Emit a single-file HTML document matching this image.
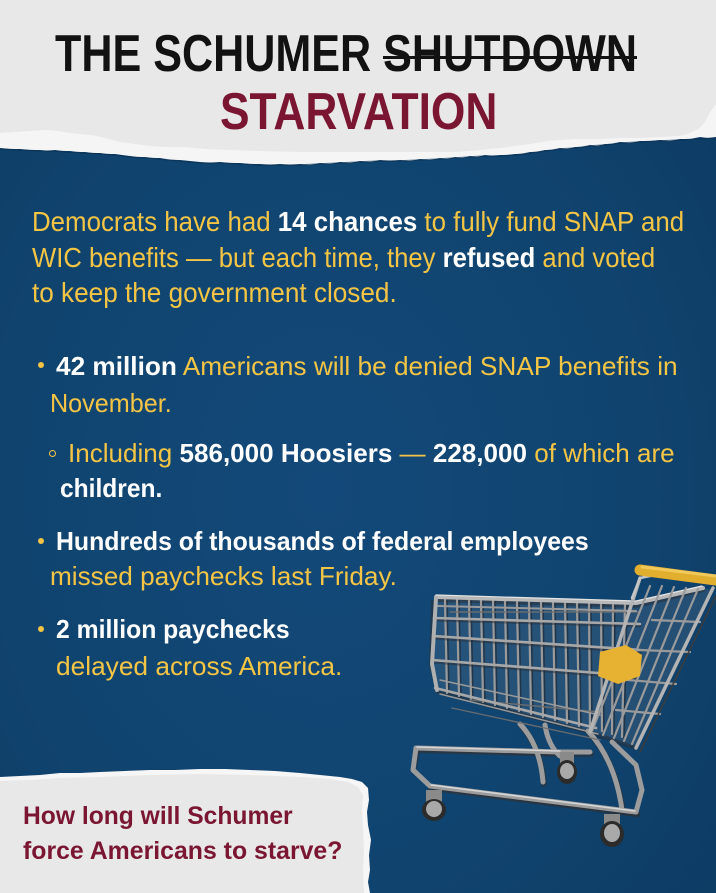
<!DOCTYPE html>
<html>
<head>
<meta charset="utf-8">
<style>
  html,body{margin:0;padding:0;}
  body{width:716px;height:893px;overflow:hidden;position:relative;
    background:#10446f;font-family:"Liberation Sans Narrow","Liberation Sans",sans-serif;}
  .bg{position:absolute;left:0;top:0;width:716px;height:893px;
    background:radial-gradient(ellipse at 45% 55%, #13497a 0%, #10446f 55%, #0c3a62 100%);}
  svg.layer{position:absolute;left:0;top:0;}
  .ln{position:absolute;white-space:nowrap;}
  .fit{display:inline-block;white-space:nowrap;transform-origin:0 0;}
  .t{font-size:52px;line-height:52px;font-weight:700;color:#121212;}
  .st{color:#7a1632;}
  .p{font-size:28px;line-height:28px;color:#f4c544;}
  .b{font-size:26px;line-height:26px;color:#f4c544;}
  .w{color:#ffffff;font-weight:700;}
  .q{font-size:25px;line-height:25px;color:#7a1632;font-weight:700;}
  .dot{position:absolute;width:6px;height:6px;border-radius:50%;background:#f4c544;}
  .ring{position:absolute;width:5px;height:5px;border-radius:50%;border:1.5px solid #f4c544;}
</style>
</head>
<body>
<div class="bg"></div>

<svg class="layer" width="716" height="893" viewBox="0 0 716 893">
  <!-- top torn paper: white strip -->
  <polygon fill="#f5f5f5" points="0,0 716,0 716,137 708,138 700,137 690,139 680,139 670,141 660,140 650,141 640,141 630,143 620,142 612,144 605,144 597,146 590,145 582,147 575,147 567,149 560,148 552,150 545,150 537,152 530,152 522,154 515,154 507,155 500,155 492,156 485,155 477,157 470,156 462,158 455,157 447,159 440,158 430,160 420,159 410,161 400,160 390,161 380,160 370,162 360,161 350,163 340,162 330,164 320,163 310,165 300,164 290,165 280,164 270,165 260,164 250,164 240,163 230,163 220,162 210,163 200,162 190,161 180,160 170,160 160,158 152,158 145,157 137,157 130,156 122,155 115,154 107,154 100,153 92,153 85,152 77,152 70,151 62,151 55,150 47,151 40,150 30,150 20,149 10,149 0,148"/>
  <!-- top paper gray -->
  <polygon fill="#e8e8e8" points="0,0 716,0 716,104 710,112 706,120 700,128 690,133 680,136 660,137 640,138 620,138 600,139 575,139 560,140 548,141 530,144 515,146 500,148 480,150 457,152 420,152 380,152 340,152 300,152 260,151 230,150 205,149 183,147 165,147 150,146 135,144 120,142 105,138 91,135 80,134 70,133 58,131 46,130 30,131 15,132 0,133"/>
  <!-- dark shadow line at tear -->
  <polyline fill="none" stroke="#0a2f50" stroke-width="1.5" opacity="0.6" points="0,149 20,150 40,151 55,151 70,152 85,153 100,154 115,155 130,157 145,158 160,159 180,161 200,163 220,163 240,164 260,165 280,165 300,165 320,164 340,163 360,162 380,161 400,161 420,160 440,159 455,158 470,157 485,156 500,156 515,155 530,153 545,151 560,149 575,148 590,146 605,145 620,143 640,142 660,141 680,140 700,139 716,138"/>

  <!-- ============ CART ============ -->
  <g stroke-linecap="round" stroke-linejoin="round" fill="none">
    <!-- faint basket mass -->
    <polygon points="436,598 636,604 703,588 713,590 636,748 592,733 437,690 432,664" fill="#8a9099" opacity="0.18" stroke="none"/>
    <!-- shadow strokes -->
    <g stroke="#2a2f36" stroke-width="4" opacity="0.55">
      <polyline points="437,600 636,606 703,590"/>
      <polyline points="433,602 431,665 438,692 592,733 636,748"/>
      <polyline points="416,750 562,754"/>
      <polyline points="418,752 414,772 432,788 638,815"/>
    </g>
    <!-- lower base frame -->
    <g stroke="#2f3338" stroke-width="6" opacity="0.6">
      <polyline points="417,750 561,754 591,754"/>
      <polyline points="431,788 637,814"/>
      <path d="M521,726 Q541,747 544,784"/>
      <path d="M589,733 Q616,762 623,812"/>
    </g>
    <g stroke="#9c9c9c" stroke-width="5">
      <polyline points="416,748 560,752 590,752"/>
      <polyline points="416,748 413,770 430,786 636,812"/>
      <polyline points="636,812 642,790 636,765 612,742"/>
      <path d="M520,724 Q540,745 543,782"/>
      <path d="M588,731 Q615,760 622,810"/>
      <path d="M545,725 Q548,745 560,756"/>
    </g>
    <g stroke="#d6d6d6" stroke-width="1.5">
      <polyline points="417,747 560,751"/>
      <polyline points="431,785 635,811"/>
    </g>
    <!-- wheels -->
    <g>
      <rect x="426" y="790" width="16" height="14" fill="#8a8a8a" stroke="none"/>
      <ellipse cx="434" cy="810" rx="12" ry="11" fill="#2b2b2b" stroke="none"/>
      <ellipse cx="434" cy="809" rx="8" ry="8" fill="#a9a9a9" stroke="none"/>
      <rect x="560" y="752" width="14" height="12" fill="#8a8a8a" stroke="none"/>
      <ellipse cx="567" cy="772" rx="10" ry="12" fill="#2b2b2b" stroke="none"/>
      <ellipse cx="567" cy="771" rx="7" ry="8" fill="#a9a9a9" stroke="none"/>
      <rect x="604" y="814" width="16" height="14" fill="#8a8a8a" stroke="none"/>
      <ellipse cx="612" cy="834" rx="12" ry="13" fill="#2b2b2b" stroke="none"/>
      <ellipse cx="612" cy="833" rx="8" ry="9" fill="#a9a9a9" stroke="none"/>
    </g>
    <!-- wire shadows -->
    <g stroke="#1f2a36" stroke-width="1.6" opacity="0.7">
      <line x1="447" y1="601" x2="449" y2="694"/>
      <line x1="459" y1="601" x2="461" y2="697"/>
      <line x1="471" y1="601" x2="473" y2="700"/>
      <line x1="483" y1="602" x2="485" y2="703"/>
      <line x1="495" y1="602" x2="497" y2="706"/>
      <line x1="507" y1="602" x2="509" y2="709"/>
      <line x1="519" y1="603" x2="521" y2="712"/>
      <line x1="531" y1="603" x2="533" y2="715"/>
      <line x1="543" y1="603" x2="545" y2="718"/>
      <line x1="555" y1="604" x2="557" y2="721"/>
      <line x1="567" y1="604" x2="569" y2="724"/>
      <line x1="579" y1="604" x2="581" y2="727"/>
      <line x1="591" y1="605" x2="592" y2="730"/>
      <line x1="603" y1="605" x2="604" y2="732"/>
      <line x1="615" y1="606" x2="614" y2="735"/>
      <line x1="627" y1="606" x2="624" y2="738"/>
    </g>
    <!-- basket vertical wires (side face) -->
    <g stroke="#9a9a9a" stroke-width="2.2">
      <line x1="445" y1="600" x2="447" y2="693"/>
      <line x1="457" y1="600" x2="459" y2="696"/>
      <line x1="469" y1="600" x2="471" y2="699"/>
      <line x1="481" y1="601" x2="483" y2="702"/>
      <line x1="493" y1="601" x2="495" y2="705"/>
      <line x1="505" y1="601" x2="507" y2="708"/>
      <line x1="517" y1="602" x2="519" y2="711"/>
      <line x1="529" y1="602" x2="531" y2="714"/>
      <line x1="541" y1="602" x2="543" y2="717"/>
      <line x1="553" y1="603" x2="555" y2="720"/>
      <line x1="565" y1="603" x2="567" y2="723"/>
      <line x1="577" y1="603" x2="579" y2="726"/>
      <line x1="589" y1="604" x2="590" y2="729"/>
      <line x1="601" y1="604" x2="602" y2="731"/>
      <line x1="613" y1="605" x2="612" y2="734"/>
      <line x1="625" y1="605" x2="622" y2="737"/>
    </g>
    <!-- inner far wires -->
    <g stroke="#6f6f6f" stroke-width="1.4" opacity="0.9">
      <line x1="450" y1="612" x2="640" y2="612"/>
      <line x1="452" y1="708" x2="600" y2="740"/>
      <line x1="470" y1="700" x2="600" y2="712"/>
    </g>
    <!-- horizontal wires on side face -->
    <g stroke="#2a2f36" stroke-width="3" opacity="0.5">
      <polyline points="434,620 640,626"/>
      <polyline points="433,638 640,652"/>
      <polyline points="432,662 636,678"/>
    </g>
    <g stroke="#a8a8a8" stroke-width="2.6">
      <polyline points="434,618 640,624"/>
      <polyline points="433,636 640,650"/>
      <polyline points="432,660 636,676"/>
      <polyline points="435,688 596,728"/>
    </g>
    <!-- bottom grid -->
    <g stroke="#9a9a9a" stroke-width="1.5">
      <line x1="440" y1="680" x2="600" y2="715"/>
      <line x1="440" y1="694" x2="598" y2="734"/>
    </g>
    <!-- top rim -->
    <polyline points="436,597 636,603 703,588" stroke="#b8b8b8" stroke-width="4"/>
    <polyline points="436,595 636,601 702,586" stroke="#e4e4e4" stroke-width="1.2"/>
    <polyline points="438,606 636,611" stroke="#9a9a9a" stroke-width="2"/>
    <!-- front edge -->
    <polyline points="436,598 432,664 437,690" stroke="#b0b0b0" stroke-width="4"/>
    <!-- back gate -->
    <g stroke="#9a9a9a" stroke-width="2.2">
      <line x1="650" y1="586" x2="592" y2="731"/>
      <line x1="662" y1="586" x2="603" y2="735"/>
      <line x1="674" y1="587" x2="614" y2="738"/>
      <line x1="686" y1="588" x2="624" y2="741"/>
      <line x1="698" y1="589" x2="632" y2="744"/>
      <line x1="652" y1="620" x2="700" y2="622"/>
      <line x1="640" y1="650" x2="690" y2="652"/>
      <line x1="628" y1="680" x2="676" y2="684"/>
      <line x1="616" y1="710" x2="660" y2="714"/>
    </g>
    <!-- back gate main rods -->
    <line x1="640" y1="578" x2="590" y2="732" stroke="#b4b4b4" stroke-width="3.5"/>
    <line x1="713" y1="588" x2="636" y2="748" stroke="#b4b4b4" stroke-width="3.5"/>
    <line x1="716" y1="596" x2="640" y2="752" stroke="#3c3c3c" stroke-width="1.5"/>
    <!-- upper handle bracket -->
    <polyline points="632,598 640,578 660,574" stroke="#c6c6c6" stroke-width="2.5"/>
    <!-- handle -->
    <line x1="640" y1="570" x2="716" y2="580" stroke="#e2ae2d" stroke-width="11"/>
    <line x1="642" y1="567" x2="716" y2="576" stroke="#f1c85a" stroke-width="3"/>
    <!-- child seat yellow -->
    <polygon points="600,652 626,645 642,655 640,676 618,684 598,676" fill="#e7b132" stroke="none"/>
  </g>

  <!-- bottom torn paper -->
  <polygon fill="#f6f6f6" points="0,777 20,776 40,775 60,773 80,773 100,772 125,771 150,770 175,770 200,769 225,769 250,770 275,771 300,773 320,775 340,777 352,779 362,782 368,788 369,800 367,812 368,825 371,840 369,855 370,870 368,882 370,893 0,893"/>
  <polygon fill="#e8e8e8" points="0,781 30,780 60,778 100,777 150,775 200,774 250,775 300,777 330,779 348,782 358,787 363,795 362,810 363,830 364,850 363,870 364,893 0,893"/>
</svg>

<!-- Title -->
<div class="ln" style="left:55px;top:28px;"><span class="fit t" style="--w:582px;">THE SCHUMER SHUTDOWN</span></div>
<div style="position:absolute;left:383px;top:56px;width:254px;height:3px;background:#121212;"></div>
<div class="ln" style="left:220px;top:86px;"><span class="fit t st" style="--w:277px;">STARVATION</span></div>

<!-- Paragraph -->
<div class="ln" style="left:32px;top:208px;"><span class="fit p" style="--w:652px;">Democrats have had <span class="w">14 chances</span> to fully fund SNAP and</span></div>
<div class="ln" style="left:32px;top:244px;"><span class="fit p" style="--w:623px;">WIC benefits — but each time, they <span class="w">refused</span> and voted</span></div>
<div class="ln" style="left:32px;top:279px;"><span class="fit p" style="--w:365px;">to keep the government closed.</span></div>

<!-- Bullets -->
<div class="dot" style="left:38px;top:362px;"></div>
<div class="ln" style="left:56px;top:353px;"><span class="fit b" style="--w:622px;"><span class="w">42 million</span> Americans will be denied SNAP benefits in</span></div>
<div class="ln" style="left:50px;top:390px;"><span class="fit b" style="--w:122px;">November.</span></div>

<div class="ring" style="left:49px;top:450px;"></div>
<div class="ln" style="left:68px;top:440px;"><span class="fit b" style="--w:607px;">Including <span class="w">586,000 Hoosiers</span> — <span class="w">228,000</span> of which are</span></div>
<div class="ln" style="left:60px;top:475px;"><span class="fit b w" style="--w:102px;">children.</span></div>

<div class="dot" style="left:38px;top:538px;"></div>
<div class="ln" style="left:56px;top:528px;"><span class="fit b w" style="--w:533px;">Hundreds of thousands of federal employees</span></div>
<div class="ln" style="left:50px;top:563px;"><span class="fit b" style="--w:347px;">missed paychecks last Friday.</span></div>

<div class="dot" style="left:38px;top:626px;"></div>
<div class="ln" style="left:56px;top:616px;"><span class="fit b w" style="--w:234px;">2 million paychecks</span></div>
<div class="ln" style="left:56px;top:653px;"><span class="fit b" style="--w:286px;">delayed across America.</span></div>

<!-- Bottom question -->
<div class="ln" style="left:23px;top:804px;"><span class="fit q" style="--w:270px;">How long will Schumer</span></div>
<div class="ln" style="left:23px;top:839px;"><span class="fit q" style="--w:319px;">force Americans to starve?</span></div>

<script>
  document.querySelectorAll('.fit').forEach(function(el){
    var w = parseFloat(getComputedStyle(el).getPropertyValue('--w'));
    var a = el.offsetWidth;
    if (a > 0 && w > 0) el.style.transform = 'scaleX(' + (w / a) + ')';
  });
</script>
</body>
</html>
